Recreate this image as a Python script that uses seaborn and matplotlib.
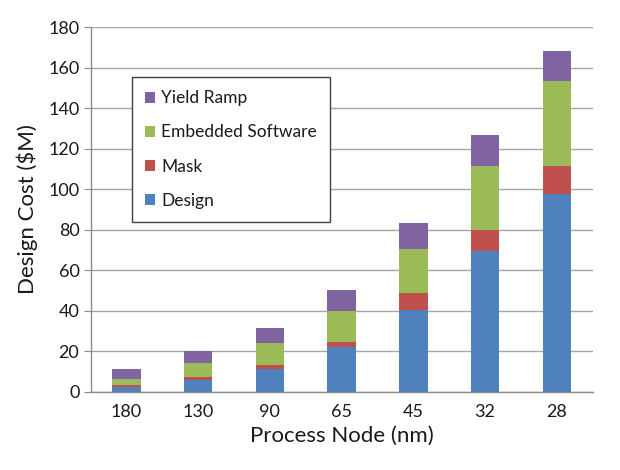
#!/usr/bin/env python3
"""Stacked design cost by process node."""

import matplotlib
matplotlib.use("Agg")
import matplotlib.pyplot as plt
from matplotlib.patches import Patch
import numpy as np
import pandas as pd
import seaborn as sns

nodes = ["180", "130", "90", "65", "45", "32", "28"]
design = [2.3, 5.9, 11.2, 22.0, 40.4, 69.2, 97.7]
mask = [1.0, 1.5, 1.8, 2.7, 8.2, 10.7, 13.5]
software = [3.1, 6.9, 11.2, 15.0, 21.9, 31.3, 42.0]
yield_ramp = [4.8, 5.7, 7.4, 10.5, 12.7, 15.6, 15.3]

series = [
    ("Design", design, "#4F81BD"),
    ("Mask", mask, "#C0504D"),
    ("Embedded Software", software, "#9BBB59"),
    ("Yield Ramp", yield_ramp, "#8064A2"),
]

sns.set_style("white")
plt.rcParams["font.family"] = ["Lato", "DejaVu Sans"]
plt.rcParams["text.color"] = "#1a1a1a"

fig = plt.figure(figsize=(6.2, 4.7), dpi=100)
ax = fig.add_axes([0.146, 0.167, 0.81, 0.775])

# cumulative tops, drawn from the top layer down so lower ones cover
tops = np.cumsum([s[1] for s in series], axis=0)
for (name, _, color), top in reversed(list(zip(series, tops))):
    df = pd.DataFrame({"node": nodes, "value": top})
    sns.barplot(data=df, x="node", y="value", order=nodes, color=color,
                width=0.4, saturation=1, linewidth=0, ax=ax, zorder=3)

ax.set_ylim(0, 180)
ax.set_yticks(range(0, 181, 20))
ax.set_xlim(-0.5, len(nodes) - 0.5)
ax.yaxis.grid(True, color="#A6A6A6", linewidth=1, zorder=0)
ax.set_axisbelow(True)

for side in ("top", "right"):
    ax.spines[side].set_visible(False)
for side in ("left", "bottom"):
    ax.spines[side].set_color("#8C8C8C")
    ax.spines[side].set_linewidth(1)

# x ticks sit between the categories
ax.set_xticks(np.arange(len(nodes)))
ax.set_xticklabels(nodes)
ax.set_xticks(np.arange(-0.5, len(nodes)), minor=True)
ax.tick_params(axis="x", which="major", length=0, pad=9, labelsize=13,
               labelcolor="#1a1a1a")
ax.tick_params(axis="x", which="minor", length=5, color="#8C8C8C", direction="out")
ax.tick_params(axis="y", length=5, color="#8C8C8C", direction="out",
               left=True, labelsize=13, pad=3, labelcolor="#1a1a1a")

ax.set_xlabel("Process Node (nm)", fontsize=16, labelpad=4, color="#1a1a1a")
ax.set_ylabel("Design Cost ($M)", fontsize=16, labelpad=7, color="#1a1a1a")

handles = [Patch(facecolor=c, edgecolor="none", label=n)
           for n, _, c in reversed(series)]
leg = ax.legend(handles=handles, loc="upper left", bbox_to_anchor=(0.082, 0.863),
                frameon=True, fancybox=False, framealpha=1, fontsize=12.5,
                handlelength=0.6, handleheight=0.6, handletextpad=0.35,
                labelspacing=1.05, borderpad=0.75, borderaxespad=0)
leg.get_frame().set_edgecolor("#404040")
leg.get_frame().set_linewidth(1)
leg.set_zorder(5)

fig.savefig("out.png", dpi=100)
